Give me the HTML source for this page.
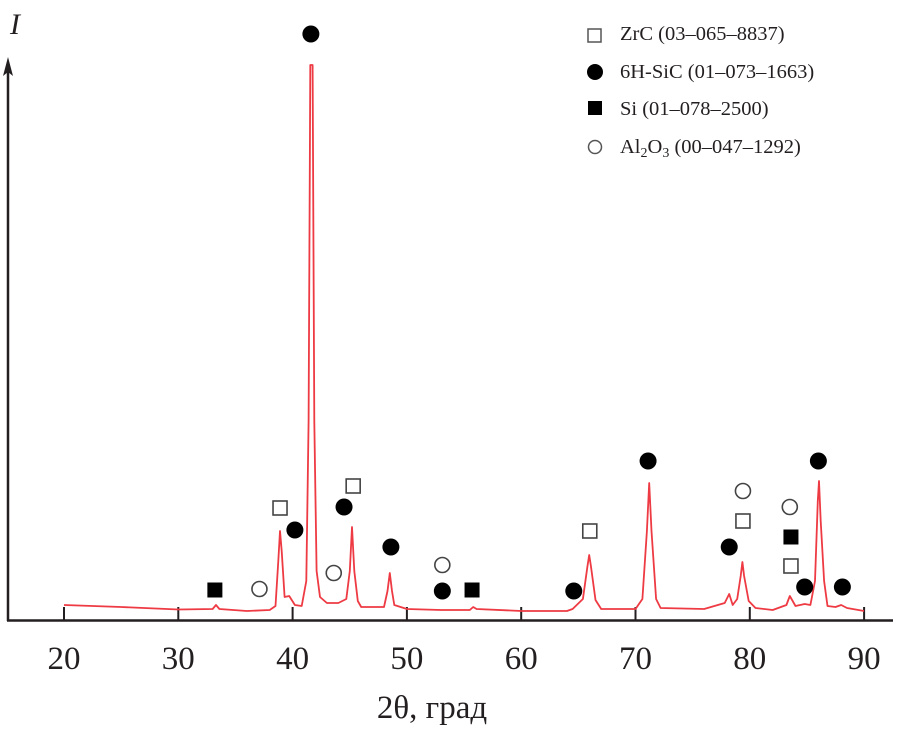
<!DOCTYPE html>
<html><head><meta charset="utf-8">
<style>
html,body{margin:0;padding:0;background:#fff;}
svg{display:block;}
text{font-family:"Liberation Serif",serif;fill:#231f20;}
</style></head>
<body>
<svg id="chart" width="905" height="741" viewBox="0 0 905 741" xmlns="http://www.w3.org/2000/svg">
  <g id="axes"></g>
  <g id="series"></g>
  <g id="markers"></g>
  <text x="10" y="34" font-size="30" font-style="italic">I</text>
  <text x="432" y="718" font-size="33" text-anchor="middle">2θ, град</text>
  <g id="legend">
    <rect x="588" y="29" width="13" height="13" fill="#fff" stroke="#555" stroke-width="1.5"/>
    <text x="620" y="40" font-size="20.5">ZrC (03–065–8837)</text>
    <circle cx="595" cy="72" r="8" fill="#000"/>
    <text x="620" y="78" font-size="20.5">6H-SiC (01–073–1663)</text>
    <rect x="588" y="101" width="14" height="14" fill="#000"/>
    <text x="620" y="115" font-size="20.5">Si (01–078–2500)</text>
    <circle cx="595" cy="147" r="6.5" fill="#fff" stroke="#555" stroke-width="1.5"/>
    <text x="620" y="153" font-size="20.5">Al<tspan font-size="14" dy="4">2</tspan><tspan dy="-4">O</tspan><tspan font-size="14" dy="4">3</tspan><tspan dy="-4"> (00–047–1292)</tspan></text>
  </g>
</svg>
<script>
const xTicks = [20,30,40,50,60,70,80,90];
const angles = [20,25,30,33.0,33.3,33.6,36,38,38.5,38.75,38.9,39.05,39.3,39.7,40.2,40.8,41.2,41.4,41.55,41.75,41.9,42.1,42.4,43,44,44.7,45.0,45.2,45.4,45.7,46,48,48.3,48.5,48.7,48.9,50,53,55.5,55.8,56.1,60,64,64.5,65.4,65.8,65.95,66.1,66.5,67,70,70.6,71.0,71.2,71.4,71.8,72.2,76,77.8,78.2,78.5,78.9,79.2,79.35,79.5,79.9,80.5,82,83.2,83.5,84,84.8,85.3,85.7,85.95,86.05,86.2,86.5,86.8,87.5,88,88.5,90];
const intensity = [16,14,11.5,12,16,12,10,11,15,60,90,70,24,25,16,15,40,200,556,556,200,50,24,18,18,22,50,94,50,20,14,14,30,48,30,16,12,11,11,14,12,10,10,12,22,55,66,55,21,12,12,22,90,138,90,22,13,12,18,27,16,22,45,59,45,20,13,11,16,25,15,17,16,40,120,140,100,40,15,14,16,13,10];
// markers: type, angle, intensity level
const markerType = ["osq","fc","fc","fc","fc","osq","oc","oc","fc","fsq","fsq","oc","fc","osq","fc","fc","oc","osq","oc","fsq","osq","fc","fc","fc"];
const markerAngle = [38.9,40.2,41.6,44.5,48.6,45.3,43.6,53.1,53.1,55.7,33.2,37.1,64.6,66.0,71.1,78.2,79.4,79.4,83.5,83.6,83.6,84.8,86.0,88.1];
const markerLevel = [113,91,587,114,74,135,48,56,30,31,31,32,30,90,160,74,130,100,114,84,55,34,160,34];

const X0=64, XS=11.43, Y0=621;
const xs = a => X0 + (a-20)*XS;
const ys = v => Y0 - v;
const NS="http://www.w3.org/2000/svg";
function mk(tag, parent){const e=document.createElementNS(NS,tag);parent.appendChild(e);return e;}

const axes=document.getElementById('axes');
let l=mk('line',axes);


l.setAttribute('x1',7);l.setAttribute('x2',893);l.setAttribute('y1',620.5);l.setAttribute('y2',620.5);
l.setAttribute('stroke','#231f20');l.setAttribute('stroke-width','2.5');
l=mk('line',axes);


l.setAttribute('x1',8);l.setAttribute('x2',8);l.setAttribute('y1',621);l.setAttribute('y2',70);
l.setAttribute('stroke','#231f20');l.setAttribute('stroke-width','2.5');
let ar=mk('path',axes);


ar.setAttribute('d','M8 57 L3 76 L8 72 L13 76 Z');ar.setAttribute('fill','#231f20');
xTicks.forEach(t=>{
  const tl=mk('line',axes);
  
  
  tl.setAttribute('x1',xs(t));tl.setAttribute('x2',xs(t));tl.setAttribute('y1',607);tl.setAttribute('y2',620);
  tl.setAttribute('stroke','#231f20');tl.setAttribute('stroke-width','2');
  const tx=mk('text',axes);
  
  
  tx.setAttribute('x',xs(t));tx.setAttribute('y',669);tx.setAttribute('font-size','33');tx.setAttribute('text-anchor','middle');
  tx.textContent=t;
});

const series=document.getElementById('series');
const pl=mk('polyline',series);


pl.setAttribute('points',angles.map((a,i)=>xs(a).toFixed(1)+','+ys(intensity[i]).toFixed(1)).join(' '));
pl.setAttribute('fill','none');pl.setAttribute('stroke','#ee3a43');pl.setAttribute('stroke-width','1.8');pl.setAttribute('stroke-linejoin','round');

const mg=document.getElementById('markers');
markerType.forEach((t,i)=>{
  const cx=xs(markerAngle[i]), cy=ys(markerLevel[i]);
  let e;
  if(t==="fc"||t==="oc"){
    e=mk('circle',mg);
    
    
    e.setAttribute('cx',cx);e.setAttribute('cy',cy);
    if(t==="fc"){e.setAttribute('r',8.5);e.setAttribute('fill','#000');}
    else{e.setAttribute('r',7.5);e.setAttribute('fill','#fff');e.setAttribute('stroke','#444');e.setAttribute('stroke-width','1.6');}
  } else {
    e=mk('rect',mg);
    
    
    if(t==="fsq"){e.setAttribute('x',cx-7.5);e.setAttribute('y',cy-7.5);e.setAttribute('width',15);e.setAttribute('height',15);e.setAttribute('fill','#000');}
    else{e.setAttribute('x',cx-7);e.setAttribute('y',cy-7);e.setAttribute('width',14);e.setAttribute('height',14);e.setAttribute('fill','#fff');e.setAttribute('stroke','#444');e.setAttribute('stroke-width','1.6');}
  }
});
</script>
</body></html>
